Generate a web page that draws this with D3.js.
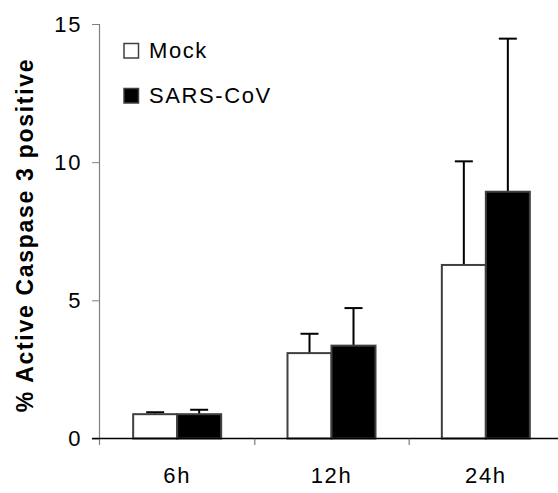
<!DOCTYPE html>
<html>
<head>
<meta charset="utf-8">
<script src="https://cdn.jsdelivr.net/npm/d3@7"></script>
<style>
  body { margin: 0; background: #fff; }
  text { font-family: "Liberation Sans", Arial, sans-serif; }
</style>
</head>
<body>
<div id="chart"></div>
<script>
// values
var categories = ["6h", "12h", "24h"];
var seriesNames = ["Mock", "SARS-CoV"];
var mockValues = [0.88, 3.09, 6.28];
var mockErrors = [0.07, 0.70, 3.75];
var sarsValues = [0.88, 3.36, 8.93];
var sarsErrors = [0.16, 1.36, 5.54];
var yTicks = [0, 5, 10, 15];

var width = 558, height = 493;
var margin = {top: 24, right: 0, bottom: 55, left: 99};
var fontSize = 22, spacing = "1.6px";

var svg = d3.select("#chart").append("svg")
    .attr("width", width)
    .attr("height", height);

var innerW = width - margin.left - margin.right,
    innerH = height - margin.top - margin.bottom;

var g = svg.append("g").attr("transform", "translate(" + margin.left + "," + margin.top + ")");

var x = d3.scaleBand().domain(categories).range([1, 464]);
var x1 = d3.scaleBand().domain(seriesNames).range([x.bandwidth() / 2 - 44, x.bandwidth() / 2 + 44]);
var y = d3.scaleLinear().domain([0, 15]).range([innerH + 0.5, 0]);

var fills = {"Mock": "#ffffff", "SARS-CoV": "#000000"};

var flat = [];
categories.forEach(function(c, i) {
  flat.push({cat: c, name: "Mock", v: mockValues[i], e: mockErrors[i]});
  flat.push({cat: c, name: "SARS-CoV", v: sarsValues[i], e: sarsErrors[i]});
});

function cx(d) { return x(d.cat) + x1(d.name) + x1.bandwidth() / 2; }

// error bars (drawn first so the bar covers the lower half)
var eb = g.selectAll(".err").data(flat).enter().append("g").attr("class", "err");
eb.append("line")
  .attr("x1", cx).attr("x2", cx)
  .attr("y1", function(d) { return y(d.v); })
  .attr("y2", function(d) { return y(d.v + d.e); })
  .attr("stroke", "#000").attr("stroke-width", 2);
eb.append("line")
  .attr("x1", function(d) { return cx(d) - 9; })
  .attr("x2", function(d) { return cx(d) + 9; })
  .attr("y1", function(d) { return y(d.v + d.e); })
  .attr("y2", function(d) { return y(d.v + d.e); })
  .attr("stroke", "#000").attr("stroke-width", 2);

// bars
g.selectAll(".bar").data(flat).enter().append("rect")
  .attr("class", "bar")
  .attr("x", function(d) { return x(d.cat) + x1(d.name); })
  .attr("y", function(d) { return y(d.v); })
  .attr("width", x1.bandwidth())
  .attr("height", function(d) { return y(0) - y(d.v); })
  .attr("fill", function(d) { return fills[d.name]; })
  .attr("stroke", "#404040")
  .attr("stroke-width", 2);

// y axis
var yAxis = g.append("g").call(d3.axisLeft(y).tickValues(yTicks).tickSize(7).tickPadding(10));
yAxis.select(".domain").attr("stroke", "#808080").attr("stroke-width", 1.2)
  .attr("d", "M0.5," + (y(15)) + "V" + (innerH + 7));
yAxis.selectAll(".tick line").attr("stroke", "#808080");
yAxis.selectAll(".tick text").attr("font-size", fontSize).attr("fill", "#000")
  .style("letter-spacing", spacing)
  .style("font-family", "'Liberation Sans', Arial, sans-serif");

// x axis
var xAxis = g.append("g").attr("transform", "translate(0," + (innerH + 0.5) + ")")
  .call(d3.axisBottom(x).tickSize(0).tickPadding(29));
xAxis.select(".domain").attr("stroke", "#000").attr("stroke-width", 1.5)
  .attr("d", "M-7,0H" + innerW);
xAxis.selectAll(".tick text").attr("font-size", fontSize).attr("fill", "#000")
  .style("letter-spacing", spacing)
  .style("font-family", "'Liberation Sans', Arial, sans-serif");
// category separators
g.selectAll(".sep").data(categories.slice(1)).enter().append("line")
  .attr("x1", function(d) { return x(d) + 0.5; })
  .attr("x2", function(d) { return x(d) + 0.5; })
  .attr("y1", innerH + 0.5).attr("y2", innerH + 7)
  .attr("stroke", "#606060");

// y label
svg.append("text")
  .attr("transform", "translate(33,235) rotate(-90)")
  .attr("text-anchor", "middle")
  .attr("font-size", 23)
  .attr("font-weight", "bold")
  .style("letter-spacing", "1.7px")
  .text("% Active Caspase 3 positive");

// legend
var legend = svg.append("g").attr("transform", "translate(124,43.5)");
seriesNames.forEach(function(n, i) {
  var lg = legend.append("g").attr("transform", "translate(0," + (i * 45) + ")");
  lg.append("rect").attr("width", 14.5).attr("height", 14.5)
    .attr("fill", fills[n]).attr("stroke", "#404040").attr("stroke-width", 1.5);
  lg.append("text").attr("x", 25).attr("y", 14)
    .attr("font-size", fontSize).style("letter-spacing", spacing).text(n);
});
</script>
</body>
</html>
